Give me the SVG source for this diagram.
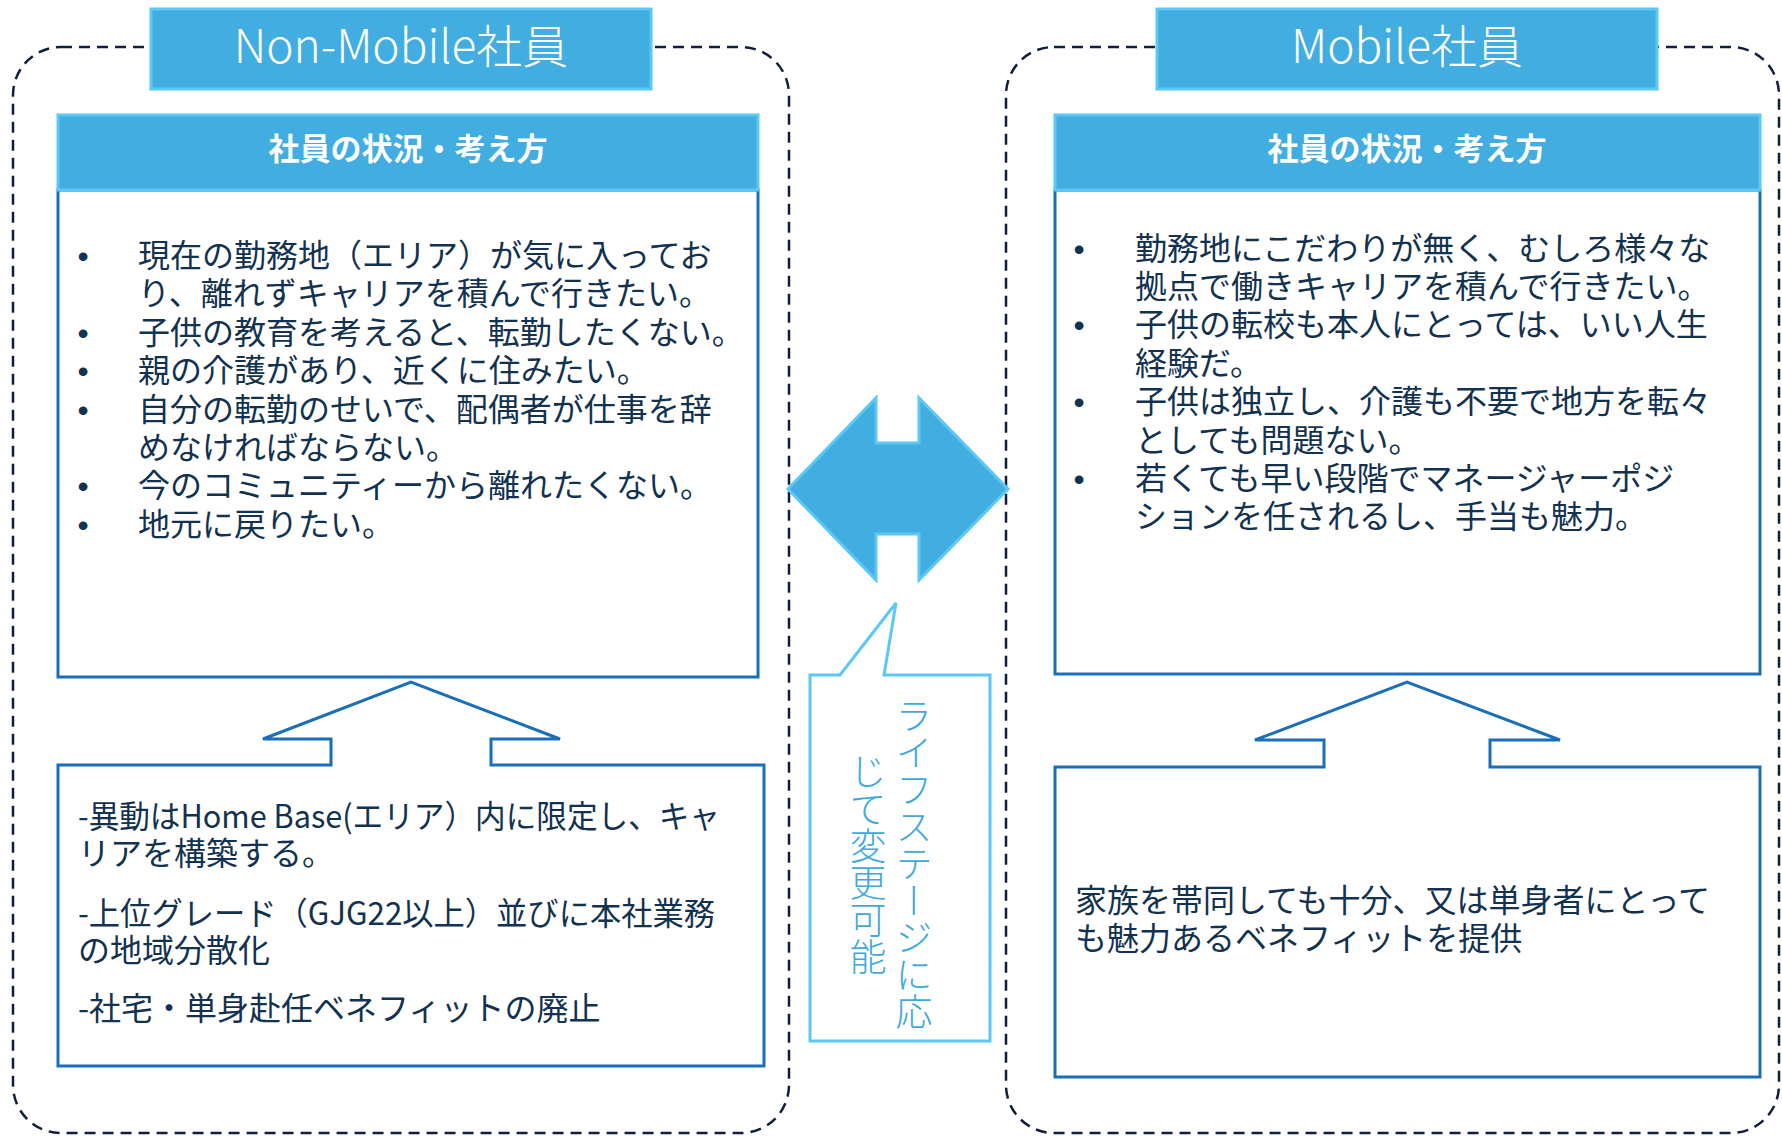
<svg xmlns="http://www.w3.org/2000/svg" width="1782" height="1136" viewBox="0 0 1782 1136">
<style>
.frame{fill:none;stroke:#0F1F3D;stroke-width:2.5;stroke-dasharray:11 7}
.title{fill:#41ADE1;stroke:#5BC8F5;stroke-width:3}
.hdr{fill:#41ADE1;stroke:#5BC8F5;stroke-width:3}
.box{fill:#fff;stroke:#1B6FBA;stroke-width:3}
.ttxt{font-family:"Noto Sans CJK JP","Noto Sans",sans-serif;font-weight:300;font-size:46px;fill:#fff}
.htxt{font-family:"Noto Sans CJK JP","Noto Sans",sans-serif;font-weight:700;font-size:31px;fill:#fff}
.body{font-family:"Noto Sans CJK JP","Noto Sans",sans-serif;font-weight:400;font-size:32px;fill:#12324F}
.bul{font-family:"Liberation Sans",sans-serif;font-size:32px;fill:#12324F}
.dbl{fill:#41ADE1;stroke:#5BC8F5;stroke-width:3}
.call{fill:#fff;stroke:#5BC8F5;stroke-width:3}
.ctxt{font-family:"Noto Sans CJK JP",sans-serif;font-weight:300;font-size:37px;fill:#3FA9DE;writing-mode:vertical-rl}
</style>

<g id="nonmobile-frame">
<rect class="frame" x="13" y="47" width="776" height="1086" rx="48" ry="48"/>
</g>
<g id="mobile-frame">
<rect class="frame" x="1006" y="47" width="773" height="1086" rx="48" ry="48"/>
</g>

<g id="nonmobile-title">
<rect class="title" x="151" y="9" width="500" height="80"/>
<text class="ttxt" x="401" y="63" text-anchor="middle">Non-Mobile社員</text>
</g>

<g id="nonmobile-situation">
<rect class="box" x="58" y="190" width="700" height="487"/>
<rect class="hdr" x="58" y="115" width="700" height="75"/>
<text class="htxt" x="408" y="160" text-anchor="middle">社員の状況・考え方</text>
<g class="bul" text-anchor="middle">
<text x="83" y="267">•</text>
<text x="83" y="343.8">•</text>
<text x="83" y="382.2">•</text>
<text x="83" y="420.6">•</text>
<text x="83" y="497.4">•</text>
<text x="83" y="535.8">•</text>
</g>
<g class="body">
<text x="138" y="267">現在の勤務地（エリア）が気に入ってお</text>
<text x="138" y="305.4">り、離れずキャリアを積んで行きたい。</text>
<text x="138" y="343.8">子供の教育を考えると、転勤したくない。</text>
<text x="138" y="382.2">親の介護があり、近くに住みたい。</text>
<text x="138" y="420.6">自分の転勤のせいで、配偶者が仕事を辞</text>
<text x="138" y="459">めなければならない。</text>
<text x="138" y="497.4">今のコミュニティーから離れたくない。</text>
<text x="138" y="535.8">地元に戻りたい。</text>
</g>
</g>

<g id="nonmobile-policy">
<path class="box" d="M58,765 H331 V739 H263 L411,682 L560,739 H491 V765 H764 V1066 H58 Z"/>
<g class="body">
<text x="78" y="828" textLength="642" lengthAdjust="spacingAndGlyphs">-異動はHome Base(エリア）内に限定し、キャ</text>
<text x="78" y="865">リアを構築する。</text>
<text x="78" y="925" textLength="637" lengthAdjust="spacingAndGlyphs">-上位グレード（GJG22以上）並びに本社業務</text>
<text x="78" y="962">の地域分散化</text>
<text x="78" y="1020">-社宅・単身赴任ベネフィットの廃止</text>
</g>
</g>

<g id="mobile-title">
<rect class="title" x="1157" y="9" width="500" height="80"/>
<text class="ttxt" x="1407" y="63" text-anchor="middle">Mobile社員</text>
</g>

<g id="mobile-situation">
<rect class="box" x="1055" y="190" width="705" height="484"/>
<rect class="hdr" x="1055" y="115" width="705" height="75"/>
<text class="htxt" x="1407" y="160" text-anchor="middle">社員の状況・考え方</text>
<g class="bul" text-anchor="middle">
<text x="1079" y="259.5">•</text>
<text x="1079" y="336.3">•</text>
<text x="1079" y="413.1">•</text>
<text x="1079" y="489.9">•</text>
</g>
<g class="body">
<text x="1135" y="259.5">勤務地にこだわりが無く、むしろ様々な</text>
<text x="1135" y="297.9">拠点で働きキャリアを積んで行きたい。</text>
<text x="1135" y="336.3">子供の転校も本人にとっては、いい人生</text>
<text x="1135" y="374.7">経験だ。</text>
<text x="1135" y="413.1">子供は独立し、介護も不要で地方を転々</text>
<text x="1135" y="451.5">としても問題ない。</text>
<text x="1135" y="489.9">若くても早い段階でマネージャーポジ</text>
<text x="1135" y="528.3">ションを任されるし、手当も魅力。</text>
</g>
</g>

<g id="mobile-policy">
<path class="box" d="M1055,767 H1324 V740 H1255 L1407,682 L1560,740 H1490 V767 H1760 V1077 H1055 Z"/>
<g class="body">
<text x="1075" y="912">家族を帯同しても十分、又は単身者にとって</text>
<text x="1075" y="950">も魅力あるベネフィットを提供</text>
</g>
</g>

<g id="connectors">
<polygon class="dbl" points="788,489 876,398 876,443 919,443 919,398 1008,489 919,580 919,534 876,534 876,580"/>
</g>

<g id="lifestage-callout">
<path class="call" d="M810,675 H840 L896,603 L884,675 H990 V1041 H810 Z"/>
<text class="ctxt" x="914" y="864" text-anchor="middle">ライフステージに応</text>
<text class="ctxt" x="868" y="864" text-anchor="middle">じて変更可能</text>
</g>
</svg>
